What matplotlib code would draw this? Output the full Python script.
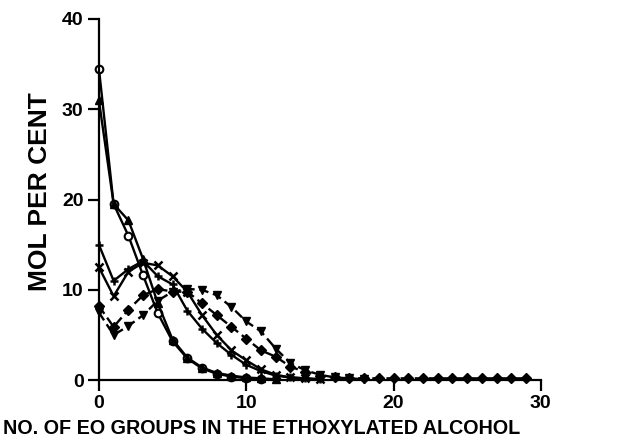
import matplotlib.pyplot as plt

# EO distribution data (mol %)
x_steep = list(range(12))
open_circ = [34.5, 19.5, 16.0, 11.6, 7.4, 4.3, 2.4, 1.3, 0.7, 0.4, 0.2, 0.1]
x_tri = list(range(13))
tri_up = [31.0, 19.5, 17.7, 13.4, 8.5, 4.5, 2.5, 1.4, 0.8, 0.5, 0.3, 0.2, 0.1]

x_mid = list(range(16))
cross_x = [12.5, 9.3, 12.0, 13.0, 12.7, 11.5, 9.8, 7.2, 5.0, 3.3, 2.2, 1.2, 0.6, 0.3, 0.2, 0.1]
cross_plus = [15.0, 11.0, 12.3, 13.2, 11.5, 10.6, 7.7, 5.7, 4.1, 2.8, 1.7, 1.0, 0.5, 0.3, 0.2, 0.1]

x_dot = list(range(30))
dots = [8.2, 5.9, 7.8, 9.4, 10.1, 9.8, 9.8, 8.5, 7.2, 5.9, 4.6, 3.3, 2.6, 1.5, 0.9, 0.5,
        0.3, 0.2, 0.2, 0.2, 0.2, 0.2, 0.2, 0.2, 0.2, 0.2, 0.2, 0.2, 0.2, 0.2]
x_tri_dn = list(range(19))
tri_down = [7.5, 5.0, 6.0, 7.2, 8.8, 9.8, 10.1, 10.0, 9.4, 8.1, 6.5, 5.4, 3.5, 1.9, 1.1, 0.6, 0.3, 0.2, 0.1]

xticks = [0, 10, 20, 30]
yticks = [0, 10, 20, 30, 40]

plt.rcParams['font.family'] = ['Liberation Sans', 'DejaVu Sans']

fig = plt.figure(figsize=(6.34, 4.40), dpi=100)
ax = fig.add_axes([0.156, 0.136, 0.697, 0.821])

kw = dict(color='black', lw=1.7, ms=5.5, clip_on=False)
ax.plot(x_steep, open_circ, marker='o', mfc='white', mew=1.5, ls='-', **kw)
ax.plot(x_tri, tri_up, marker='^', ls='-', **kw)
ax.plot(x_mid, cross_x, marker='x', mew=1.8, ls='-', **kw)
ax.plot(x_mid, cross_plus, marker='+', mew=1.8, ls='-', **kw)
ax.plot(x_dot, dots, marker='D', ls=(0, (4, 2)), **kw)
ax.plot(x_tri_dn, tri_down, marker='v', ls=(0, (4, 2)), **kw)

ax.set_xlim(0, 30)
ax.set_ylim(0, 40)
ax.set_xticks(xticks)
ax.set_yticks(yticks)
for s in ['top', 'right']:
    ax.spines[s].set_visible(False)
for s in ['left', 'bottom']:
    ax.spines[s].set_linewidth(1.6)
ax.tick_params(direction='out', length=8, width=1.6, labelsize=14, pad=3)
for lab in ax.get_xticklabels() + ax.get_yticklabels():
    lab.set_fontweight('bold')

fig.text(0.005, 0.027, 'NO. OF EO GROUPS IN THE ETHOXYLATED ALCOHOL',
         fontsize=14.2, fontweight='bold', ha='left', va='center')
fig.text(0.063, 0.565, 'MOL PER CENT', fontsize=19, fontweight='bold',
         rotation=90, ha='center', va='center')

fig.savefig('out.png', dpi=100)
